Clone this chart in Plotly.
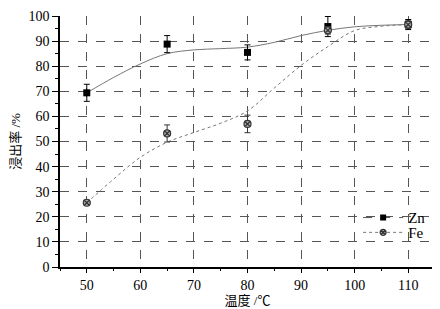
import plotly.graph_objects as go

# Measured data
temps = [50, 65, 80, 95, 110]
zn_values = [69.4, 88.8, 85.5, 95.8, 96.6]
zn_err = [3.4, 3.4, 3.0, 4.0, 2.0]
fe_values = [25.6, 53.2, 57.0, 94.3, 96.6]
fe_err = [1.0, 3.4, 3.5, 1.5, 1.5]

# Fitted curves
curve_x = [50, 55, 60, 65, 70, 75, 80, 85, 90, 95, 100, 105, 110]
zn_curve = [69.4, 75.5, 80.9, 85.0, 86.5, 87.0, 87.6, 89.5, 92.2, 94.3, 95.7, 96.3, 96.6]
fe_curve = [25.6, 35.0, 43.7, 49.7, 53.6, 57.3, 62.2, 71.3, 80.3, 87.8, 94.2, 95.9, 96.6]

x_ticks = [50, 60, 70, 80, 90, 100, 110]
y_ticks = [0, 10, 20, 30, 40, 50, 60, 70, 80, 90, 100]

serif = "Liberation Serif, Noto Sans CJK SC, serif"

fig = go.Figure()

fig.add_trace(go.Scatter(x=curve_x, y=zn_curve, mode="lines", line=dict(color="#777", width=1, shape="spline"),
                         showlegend=False, hoverinfo="skip"))
fig.add_trace(go.Scatter(x=curve_x, y=fe_curve, mode="lines", line=dict(color="#777", width=1, dash="dot", shape="spline"),
                         showlegend=False, hoverinfo="skip"))

fig.add_trace(go.Scatter(x=temps, y=zn_values, mode="markers",
                         marker=dict(symbol="square", size=7, color="black"),
                         error_y=dict(type="data", array=zn_err, color="black", thickness=1, width=3),
                         showlegend=False))
fig.add_trace(go.Scatter(x=temps, y=fe_values, mode="markers",
                         marker=dict(symbol="circle-x", size=7, color="#aaa", line=dict(color="#333", width=1.2)),
                         error_y=dict(type="data", array=fe_err, color="#333", thickness=1, width=3),
                         showlegend=False))

# Legend entries
fig.add_trace(go.Scatter(x=[None], y=[None], mode="lines+markers", name="Zn", legend="legend",
                         line=dict(color="#555", width=1, dash="dash"),
                         marker=dict(symbol="square", size=6, color="black")))
fig.add_trace(go.Scatter(x=[None], y=[None], mode="lines+markers", name="Fe", legend="legend2",
                         line=dict(color="#777", width=1, dash="dot"),
                         marker=dict(symbol="circle-x", size=6, color="#aaa", line=dict(color="#333", width=1.2))))

leg_common = dict(xanchor="left", yanchor="middle", bgcolor="rgba(0,0,0,0)",
                  font=dict(size=15, family=serif), itemwidth=40)

fig.update_layout(
    width=432, height=301,
    margin=dict(l=52, r=5, t=8, b=42),
    paper_bgcolor="white", plot_bgcolor="white",
    font=dict(family=serif, size=14, color="black"),
    legend=dict(x=0.795, y=0.196, **leg_common),
    legend2=dict(x=0.795, y=0.137, **leg_common),
    xaxis=dict(range=[45, 115], tickvals=x_ticks, ticks="outside", ticklen=4, tickcolor="black",
               showline=True, linecolor="black", linewidth=1.5, automargin=False,
               showgrid=True, gridcolor="#555", griddash="dash", gridwidth=1, zeroline=False,
               minor=dict(dtick=5, ticks="outside", ticklen=2, tickcolor="black", showgrid=False),
               title=dict(text="温度 /℃", font=dict(size=13), standoff=2),
               tickfont=dict(size=14)),
    yaxis=dict(range=[0, 100], tickvals=y_ticks, ticks="outside", ticklen=6, tickcolor="black",
               showline=True, linecolor="black", linewidth=1.5, automargin=False,
               showgrid=True, gridcolor="#555", griddash="dash", gridwidth=1, zeroline=False,
               minor=dict(dtick=5, ticks="outside", ticklen=3, tickcolor="black", showgrid=False),
               title=dict(text="浸出率 /%", font=dict(size=13), standoff=7),
               tickfont=dict(size=14)),
)

fig.write_html("out.html")
